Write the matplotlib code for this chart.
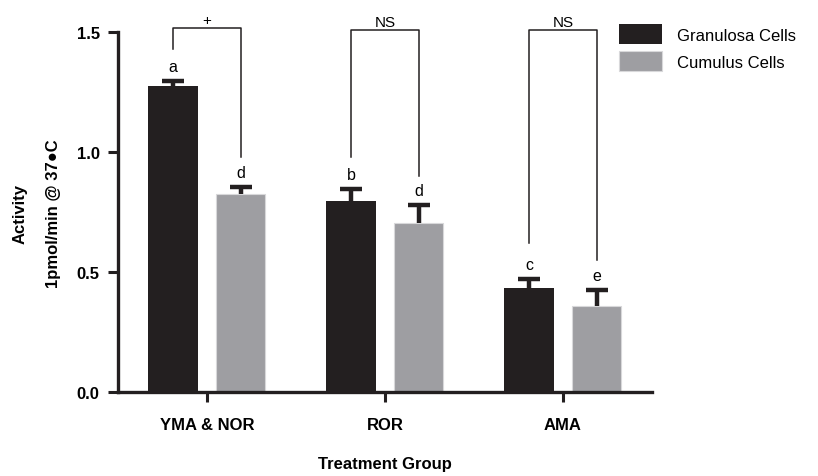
import matplotlib.pyplot as plt
import numpy as np

plt.rcParams['font.family'] = ['Liberation Sans', 'DejaVu Sans']

groups = ['YMA & NOR', 'ROR', 'AMA']
granulosa = [1.275, 0.795, 0.433]
granulosa_err = [0.02, 0.05, 0.037]
cumulus = [0.825, 0.705, 0.358]
cumulus_err = [0.028, 0.075, 0.068]
gran_letters = ['a', 'b', 'c']
cum_letters = ['d', 'd', 'e']
brackets = ['+', 'NS', 'NS']
# bracket leg bottoms (left, right) and top
bracket_left = [1.43, 0.98, 0.62]
bracket_right = [0.98, 0.90, 0.55]
bracket_top = [1.517, 1.508, 1.508]

gran_color = '#231f20'
cum_color = '#9e9ea2'

fig = plt.figure(figsize=(8.18, 4.77), dpi=100)
ax = fig.add_axes([0.144, 0.176, 0.653, 0.755])

x = np.arange(len(groups))
w = 0.277
off = 0.19

ax.bar(x - off, granulosa, w, color=gran_color, label='Granulosa Cells', zorder=2)
ax.bar(x + off, cumulus, w, color=cum_color, edgecolor='#d8d8da', linewidth=0.8,
       label='Cumulus Cells', zorder=2)
for xs, vals, errs in [(x - off, granulosa, granulosa_err), (x + off, cumulus, cumulus_err)]:
    eb = ax.errorbar(xs, vals, yerr=[np.zeros(3), errs], fmt='none',
                     ecolor=gran_color, elinewidth=3.2, capsize=8, capthick=3.2, zorder=3)
    eb[1][0].set_visible(False)  # hide lower caps

for i in range(len(groups)):
    ax.text(x[i] - off, granulosa[i] + granulosa_err[i] + 0.03, gran_letters[i],
            ha='center', va='bottom', fontsize=11.5)
    ax.text(x[i] + off, cumulus[i] + cumulus_err[i] + 0.03, cum_letters[i],
            ha='center', va='bottom', fontsize=11.5)
    xl, xr = x[i] - off, x[i] + off
    ax.plot([xl, xl, xr, xr], [bracket_left[i], bracket_top[i], bracket_top[i], bracket_right[i]],
            color='#231f20', lw=1.1, clip_on=False)
    ax.text(x[i], bracket_top[i] + 0.004, brackets[i], ha='center', va='bottom', fontsize=11)

ax.set_xlim(-0.5, 2.5)
ax.set_ylim(0, 1.5)
ax.set_yticks([0.0, 0.5, 1.0, 1.5])
ax.set_yticklabels(['0.0', '0.5', '1.0', '1.5'], fontweight='bold', fontsize=12)
ax.set_xticks(x)
ax.set_xticklabels(groups, fontweight='bold', fontsize=12)
ax.tick_params(axis='both', width=2.2, length=7, color='#231f20')
ax.tick_params(axis='x', pad=11)
ax.tick_params(axis='y', pad=6)
for s in ['top', 'right']:
    ax.spines[s].set_visible(False)
for s in ['left', 'bottom']:
    ax.spines[s].set_linewidth(2.4)
    ax.spines[s].set_color('#231f20')

fig.text(0.471, 0.026, 'Treatment Group', ha='center', va='center',
         fontweight='bold', fontsize=12)
fig.text(0.025, 0.551, 'Activity', rotation=90, ha='center', va='center',
         fontweight='bold', fontsize=12)
fig.text(0.065, 0.551, '1pmol/min @ 37\u25cfC', rotation=90, ha='center', va='center',
         fontweight='bold', fontsize=12)

fig.legend(loc='upper left', bbox_to_anchor=(0.738, 0.978), frameon=False,
           fontsize=12, handlelength=2.6, handleheight=1.45, handletextpad=0.9,
           labelspacing=0.42)

fig.savefig('out.png', dpi=100)
